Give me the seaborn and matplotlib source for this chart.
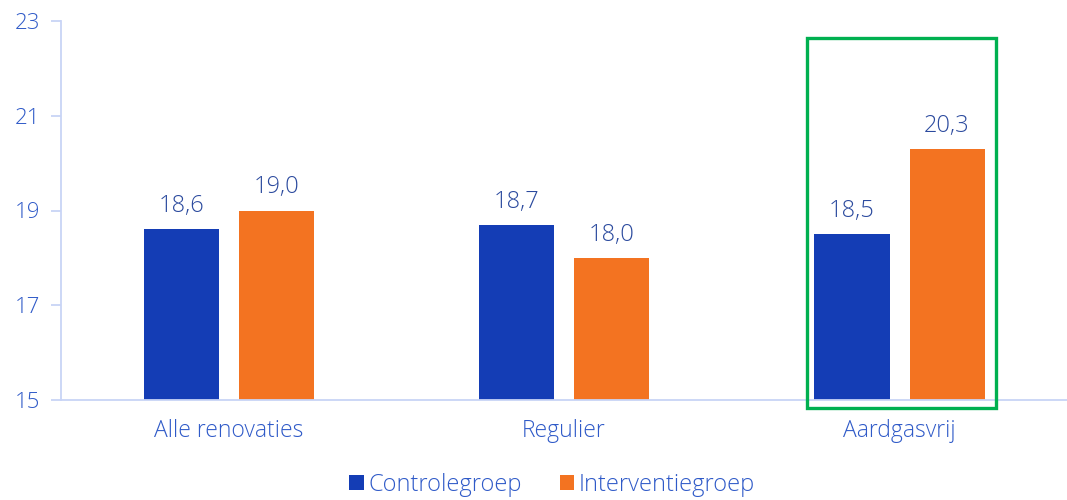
import matplotlib
matplotlib.use("Agg")
import matplotlib.pyplot as plt
from matplotlib.patches import Rectangle
import pandas as pd
import seaborn as sns

categories = ["Alle renovaties", "Regulier", "Aardgasvrij"]
groups = ["Controlegroep", "Interventiegroep"]
controle = [18.6, 18.7, 18.5]
interventie = [19.0, 18.0, 20.3]
y_ticks = [15, 17, 19, 21, 23]

df = pd.DataFrame({
    "categorie": categories * 2,
    "groep": [groups[0]] * 3 + [groups[1]] * 3,
    "waarde": controle + interventie,
})

sns.set_theme(style="white")
plt.rcParams["font.family"] = ["Open Sans", "DejaVu Sans"]

blue = "#143DB5"
orange = "#F37321"
text_blue = "#2F5AC8"
value_blue = "#2B4A9E"
axis_col = "#C8D4F6"

fig = plt.figure(figsize=(10.67, 5.0), dpi=100)
ax = fig.add_axes([0.0572, 0.2, 0.943, 0.758])

sns.barplot(data=df, x="categorie", y="waarde", hue="groep",
            order=categories, hue_order=groups,
            palette=[blue, orange], saturation=1, width=0.567, gap=0.21,
            linewidth=0, ax=ax, legend=True)

ax.set_ylim(15, 23)
ax.set_xlim(-0.5, 2.5)
ax.set_yticks(y_ticks)
ax.set_yticklabels([str(t) for t in y_ticks])
ax.set_xlabel("")
ax.set_ylabel("")

for side in ["top", "right"]:
    ax.spines[side].set_visible(False)
for side in ["left", "bottom"]:
    ax.spines[side].set_color(axis_col)
    ax.spines[side].set_linewidth(1.3)

ax.tick_params(axis="y", left=True, length=7, width=1.3, color=axis_col,
               labelsize=16, labelcolor=text_blue, pad=8)
ax.tick_params(axis="x", bottom=False, labelsize=16.5, labelcolor=text_blue, pad=8)
for lbl in ax.get_yticklabels() + ax.get_xticklabels():
    lbl.set_fontweight("light")

for container in ax.containers:
    labels = [f"{v:.1f}".replace(".", ",") for v in container.datavalues]
    ax.bar_label(container, labels=labels, padding=8, fontsize=17,
                 color=value_blue, fontweight="light")

# highlight box around the third category
box = Rectangle((1.724, 14.83), 0.563, 7.81, fill=False,
                edgecolor="#00B050", linewidth=2.4, clip_on=False, zorder=5)
ax.add_patch(box)

leg = ax.legend(loc="upper center", bbox_to_anchor=(0.488, -0.137), ncol=2,
                frameon=False, fontsize=17, handlelength=0.6, handleheight=0.6,
                handletextpad=0.2, columnspacing=1.6)
for t in leg.get_texts():
    t.set_color(text_blue)
    t.set_fontweight("light")

fig.savefig("out.png", dpi=100)
